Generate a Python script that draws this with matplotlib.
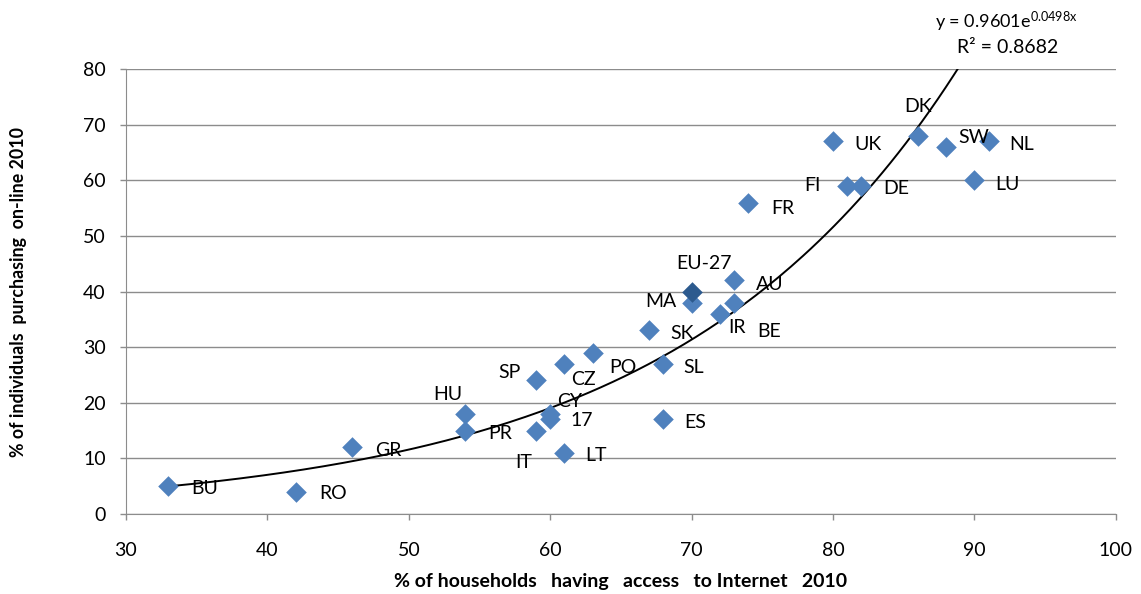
import numpy as np
import matplotlib
matplotlib.use("Agg")
import matplotlib.pyplot as plt

# Country codes, internet access (x) and online purchasing (y), 2010
COUNTRIES = ["BU", "RO", "GR", "HU", "PR", "SP", "IT", "CZ", "PO", "CY", "17", "LT",
             "SK", "SL", "ES", "MA", "AU", "BE", "IR", "FR", "UK", "FI", "DE",
             "DK", "SW", "NL", "LU"]
ACCESS = [33, 42, 46, 54, 54, 59, 59, 61, 63, 60, 60, 61,
          67, 68, 68, 70, 73, 73, 72, 74, 80, 81, 82,
          86, 88, 91, 90]
PURCHASING = [5, 4, 12, 18, 15, 24, 15, 27, 29, 18, 17, 11,
              33, 27, 17, 38, 42, 38, 36, 56, 67, 59, 59,
              68, 66, 67, 60]
EU_LABEL = "EU-27"
EU_ACCESS = 70
EU_PURCHASING = 40

# exponential fit y = a * exp(b * x)
FIT_A = 0.9601
FIT_B = 0.0498
FIT_R2 = 0.8682

# label offsets in points (dx, dy)
OFFSETS = {
    "BU": (26, -2), "RO": (27, -1), "GR": (26, -2), "HU": (-13, 14), "PR": (25, -2),
    "SP": (-19, 6), "IT": (-9, -23), "CZ": (14, -11), "PO": (22, -11), "CY": (14, 9),
    "17": (23, -1), "LT": (23, -2), "SK": (24, -2), "SL": (22, -3), "ES": (23, -2),
    "MA": (-22, 1), "AU": (26, -3), "BE": (25, -21), "IR": (12, -10), "FR": (25, -4),
    "UK": (25, -2), "FI": (-25, 0), "DE": (25, -2), "DK": (0, 21), "SW": (20, 7),
    "NL": (24, -2), "LU": (24, -3),
}

plt.rcParams["font.family"] = ["Lato", "DejaVu Sans"]
plt.rcParams["mathtext.fontset"] = "custom"
plt.rcParams["mathtext.rm"] = "Lato"
plt.rcParams["mathtext.it"] = "Lato"

fig = plt.figure(figsize=(11.41, 5.94), dpi=100)
ax = fig.add_axes([0.1104, 0.1347, 0.8676, 0.7491])

ax.set_xlim(30, 100)
ax.set_ylim(0, 80)
ax.set_xticks(np.arange(30, 101, 10))
ax.set_yticks(np.arange(0, 81, 10))
ax.yaxis.grid(True, color="#8c8c8c", linewidth=1.0)
ax.set_axisbelow(True)
for side in ["top", "right"]:
    ax.spines[side].set_visible(False)
for side in ["left", "bottom"]:
    ax.spines[side].set_color("#8c8c8c")
ax.tick_params(axis="both", colors="#8c8c8c", labelcolor="black", labelsize=14,
               length=4.5, width=1)
ax.tick_params(axis="y", pad=10)
ax.tick_params(axis="x", pad=16)

# trend line
xs = np.linspace(min(ACCESS), np.log(80 / FIT_A) / FIT_B, 200)
ax.plot(xs, FIT_A * np.exp(FIT_B * xs), color="black", linewidth=1.4, zorder=2)

ax.scatter(ACCESS, PURCHASING, marker="D", s=110, color="#4F81BD", zorder=3,
           linewidths=0)
ax.scatter([EU_ACCESS], [EU_PURCHASING], marker="D", s=110, color="#2C5A8E",
           zorder=4, linewidths=0)

for name, x, y in zip(COUNTRIES, ACCESS, PURCHASING):
    dx, dy = OFFSETS[name]
    ax.annotate(name, (x, y), xytext=(dx, dy), textcoords="offset points",
                ha="center", va="center", fontsize=14, zorder=5)
ax.annotate(EU_LABEL, (EU_ACCESS, EU_PURCHASING), xytext=(9, 20),
            textcoords="offset points", ha="center", va="center", fontsize=14)

fig.text(0.882, 0.963, r"y = 0.9601e$^{0.0498x}$", ha="center", va="center", fontsize=13)
fig.text(0.8835, 0.920, "R² = %.4f" % FIT_R2, ha="center", va="center", fontsize=14)

ax.set_xlabel("% of households   having   access   to Internet   2010", fontsize=14,
              fontweight="bold", va="center")
ax.set_ylabel("% of individuals  purchasing  on-line 2010", fontsize=12.8,
              fontweight="bold", va="center")
ax.xaxis.set_label_coords(0.5, -0.152)
ax.yaxis.set_label_coords(-0.109, 0.5)

fig.savefig("out.png", dpi=100)
